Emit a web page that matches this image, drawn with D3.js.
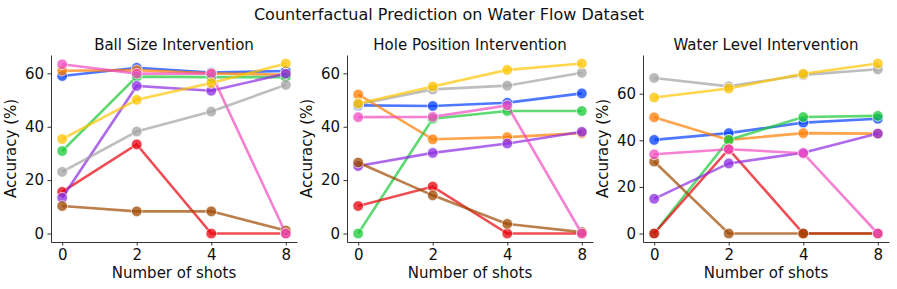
<!DOCTYPE html>
<html>
<head>
<meta charset="utf-8">
<script src="https://cdn.jsdelivr.net/npm/d3@7"></script>
<style>
  body { margin: 0; background: #fff; }
  text { font-family: "DejaVu Sans", sans-serif; fill: #111; }
</style>
</head>
<body>
<div id="chart"></div>
<script>
// shots on the x axis (categorical)
var shots = ["0", "2", "4", "8"];
var seriesNames = ["blue", "orange", "green", "red", "purple", "brown", "pink", "gray", "yellow"];
var colors = ["#023eff", "#ff7c00", "#1ac938", "#e8000b", "#8b2be2", "#9f4800", "#f14cc1", "#a3a3a3", "#ffc400"];
var panelTitles = ["Ball Size Intervention", "Hole Position Intervention", "Water Level Intervention"];

// Ball Size Intervention
var ballBlue   = [59.0, 62.1, 60.3, 60.9];
var ballOrange = [61.0, 61.2, 60.0, 59.5];
var ballGreen  = [30.9, 58.8, 58.6, 58.6];
var ballRed    = [15.6, 33.4, 0, 0];
var ballPurple = [13.4, 55.3, 53.5, 59.9];
var ballBrown  = [10.3, 8.3, 8.3, 1.1];
var ballPink   = [63.4, 59.9, 59.9, 0];
var ballGray   = [23.1, 38.2, 45.7, 55.7];
var ballYellow = [35.4, 50.1, 56.4, 63.7];

// Hole Position Intervention
var holeBlue   = [48.0, 47.8, 49.0, 52.5];
var holeOrange = [52.1, 35.3, 36.1, 37.6];
var holeGreen  = [0, 43.0, 45.9, 45.9];
var holeRed    = [10.3, 17.6, 0, 0];
var holePurple = [25.3, 30.2, 33.7, 38.1];
var holeBrown  = [26.6, 14.3, 3.6, 0.5];
var holePink   = [43.6, 43.7, 48.0, 0];
var holeGray   = [48.4, 54.0, 55.4, 60.2];
var holeYellow = [48.7, 55.1, 61.3, 63.7];

// Water Level Intervention
var waterBlue   = [40.2, 43.1, 47.6, 49.3];
var waterOrange = [49.9, 40.2, 43.1, 42.9];
var waterGreen  = [0, 40.2, 50.0, 50.5];
var waterRed    = [0, 36.2, 0, 0];
var waterPurple = [14.9, 30.1, 34.7, 42.9];
var waterBrown  = [30.9, 0, 0, 0];
var waterPink   = [34.0, 36.2, 34.5, 0];
var waterGray   = [66.8, 63.2, 68.1, 70.5];
var waterYellow = [58.4, 62.3, 68.6, 73.0];

var panels = [
  [ballBlue, ballOrange, ballGreen, ballRed, ballPurple, ballBrown, ballPink, ballGray, ballYellow],
  [holeBlue, holeOrange, holeGreen, holeRed, holePurple, holeBrown, holePink, holeGray, holeYellow],
  [waterBlue, waterOrange, waterGreen, waterRed, waterPurple, waterBrown, waterPink, waterGray, waterYellow]
];
var yTicks = [[0, 20, 40, 60], [0, 20, 40, 60], [0, 20, 40, 60]];

var W = 897, H = 289;
var svg = d3.select("#chart").append("svg").attr("width", W).attr("height", H);

svg.append("text")
  .attr("x", 449).attr("y", 20)
  .attr("text-anchor", "middle")
  .style("font-size", "16px")
  .text("Counterfactual Prediction on Water Flow Dataset");

var axLeft = [51, 347, 643];
var axWidth = 246;
var axTop = 55, axBottom = 242;

panels.forEach(function (series, p) {
  var all = [].concat.apply([], series);
  var lo = d3.min(all), hi = d3.max(all);
  var pad = (hi - lo) * 0.05;

  var x = d3.scalePoint().domain(shots).range([axLeft[p], axLeft[p] + axWidth]).padding(0.15);
  var y = d3.scaleLinear().domain([lo - pad, hi + pad]).range([axBottom, axTop]);

  var g = svg.append("g");

  g.append("text")
    .attr("x", axLeft[p] + axWidth / 2).attr("y", 50)
    .attr("text-anchor", "middle")
    .style("font-size", "15px")
    .text(panelTitles[p]);

  var yAxis = g.append("g")
    .attr("transform", "translate(" + axLeft[p] + ",0)")
    .call(d3.axisLeft(y).tickValues(yTicks[p]).tickSizeInner(3.5).tickSizeOuter(0).tickPadding(3.5));
  var xAxis = g.append("g")
    .attr("transform", "translate(0," + axBottom + ")")
    .call(d3.axisBottom(x).tickSizeInner(3.5).tickSizeOuter(0).tickPadding(3.5));
  [xAxis, yAxis].forEach(function (a) {
    a.select(".domain").attr("stroke", "#333").attr("stroke-width", 1);
    a.selectAll(".tick line").attr("stroke", "#333");
    a.selectAll(".tick text").style("font-size", "15px").style("font-family", "DejaVu Sans").attr("fill", "#111");
  });

  g.append("text")
    .attr("transform", "translate(" + (axLeft[p] - 35) + "," + ((axTop + axBottom) / 2) + ") rotate(-90)")
    .attr("text-anchor", "middle")
    .style("font-size", "15px")
    .text("Accuracy (%)");

  g.append("text")
    .attr("x", axLeft[p] + axWidth / 2).attr("y", 278)
    .attr("text-anchor", "middle")
    .style("font-size", "15px")
    .text("Number of shots");

  var line = d3.line()
    .x(function (d, i) { return x(shots[i]); })
    .y(function (d) { return y(d); });

  series.forEach(function (vals, s) {
    var sg = g.append("g").attr("class", "series-" + seriesNames[s]);
    sg.append("path")
      .attr("d", line(vals))
      .attr("fill", "none")
      .attr("stroke", colors[s])
      .attr("stroke-opacity", 0.7)
      .attr("stroke-width", 2.6);
    sg.selectAll("circle")
      .data(vals)
      .enter()
      .append("circle")
      .attr("cx", function (d, i) { return x(shots[i]); })
      .attr("cy", function (d) { return y(d); })
      .attr("r", 5.3)
      .attr("fill", colors[s])
      .attr("fill-opacity", 0.75)
      .attr("stroke", "#fff")
      .attr("stroke-opacity", 0.8)
      .attr("stroke-width", 0.8);
  });
});
</script>
</body>
</html>
